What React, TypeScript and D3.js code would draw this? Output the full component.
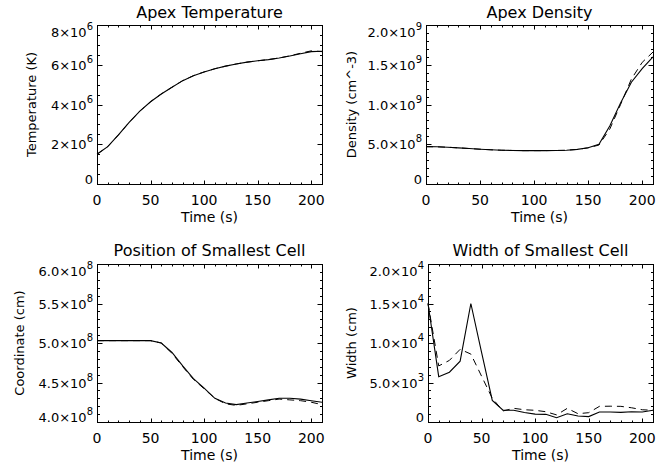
import React from 'react';
import * as d3 from 'd3';

// ---------- data ----------
const time = [0, 10, 20, 30, 40, 50, 60, 70, 80, 90, 100, 110, 120, 130, 140, 150, 160, 170, 180, 190, 200, 210];

const tempSolid = [1.50e6, 1.88e6, 2.47e6, 3.10e6, 3.67e6, 4.14e6, 4.53e6, 4.87e6, 5.20e6, 5.45e6, 5.64e6, 5.80e6, 5.93e6, 6.04e6, 6.13e6, 6.20e6, 6.26e6, 6.34e6, 6.44e6, 6.55e6, 6.66e6, 6.68e6];
const tempDashed = [1.50e6, 1.88e6, 2.47e6, 3.10e6, 3.67e6, 4.14e6, 4.53e6, 4.87e6, 5.20e6, 5.45e6, 5.64e6, 5.80e6, 5.93e6, 6.04e6, 6.13e6, 6.20e6, 6.26e6, 6.34e6, 6.45e6, 6.58e6, 6.70e6, 6.66e6];

const densSolid = [4.70e8, 4.68e8, 4.62e8, 4.55e8, 4.46e8, 4.38e8, 4.30e8, 4.25e8, 4.22e8, 4.20e8, 4.20e8, 4.20e8, 4.22e8, 4.25e8, 4.35e8, 4.55e8, 5.00e8, 7.30e8, 10.2e8, 12.8e8, 14.5e8, 16.0e8];
const densDashed = [4.70e8, 4.68e8, 4.62e8, 4.55e8, 4.46e8, 4.38e8, 4.30e8, 4.25e8, 4.22e8, 4.20e8, 4.20e8, 4.20e8, 4.22e8, 4.25e8, 4.35e8, 4.55e8, 4.90e8, 6.90e8, 10.0e8, 13.2e8, 15.3e8, 16.6e8];

const posSolid = [5.03e8, 5.03e8, 5.03e8, 5.03e8, 5.03e8, 5.03e8, 5.00e8, 4.88e8, 4.71e8, 4.55e8, 4.43e8, 4.30e8, 4.24e8, 4.22e8, 4.24e8, 4.26e8, 4.28e8, 4.30e8, 4.30e8, 4.29e8, 4.27e8, 4.25e8];
const posDashed = [5.03e8, 5.03e8, 5.03e8, 5.03e8, 5.03e8, 5.03e8, 5.00e8, 4.87e8, 4.70e8, 4.54e8, 4.42e8, 4.30e8, 4.23e8, 4.21e8, 4.23e8, 4.25e8, 4.27e8, 4.29e8, 4.28e8, 4.27e8, 4.25e8, 4.22e8];

const widthSolid = [15.0e3, 5.74e3, 6.30e3, 7.70e3, 15.0e3, 8.80e3, 2.74e3, 1.50e3, 1.48e3, 1.20e3, 1.00e3, 0.97e3, 0.55e3, 1.05e3, 0.76e3, 0.68e3, 1.27e3, 1.27e3, 1.22e3, 1.30e3, 1.27e3, 1.48e3];
const widthDashed = [15.0e3, 7.10e3, 7.80e3, 9.20e3, 8.60e3, 5.80e3, 3.00e3, 1.40e3, 1.73e3, 1.55e3, 1.48e3, 1.30e3, 0.90e3, 1.73e3, 1.05e3, 1.18e3, 1.98e3, 2.00e3, 1.98e3, 1.80e3, 1.55e3, 1.48e3];

const xTicks = [0, 50, 100, 150, 200];
const xTickLabels = ['0', '50', '100', '150', '200'];

const tempTicks = [0, 2e6, 4e6, 6e6, 8e6];
const tempTickLabels = ['0', '2×10^6', '4×10^6', '6×10^6', '8×10^6'];
const densTicks = [0, 0.5e9, 1.0e9, 1.5e9, 2.0e9];
const densTickLabels = ['0', '5.0×10^8', '1.0×10^9', '1.5×10^9', '2.0×10^9'];
const posTicks = [4.0e8, 4.5e8, 5.0e8, 5.5e8, 6.0e8];
const posTickLabels = ['4.0×10^8', '4.5×10^8', '5.0×10^8', '5.5×10^8', '6.0×10^8'];
const widthTicks = [0, 5e3, 10e3, 15e3, 20e3];
const widthTickLabels = ['0', '5.0×10^3', '1.0×10^4', '1.5×10^4', '2.0×10^4'];

const titles = ['Apex Temperature', 'Apex Density', 'Position of Smallest Cell', 'Width of Smallest Cell'];
const yTitles = ['Temperature (K)', 'Density (cm^-3)', 'Coordinate (cm)', 'Width (cm)'];
const xTitle = 'Time (s)';

// ---------- layout ----------
type PanelCfg = {
  title: string; yTitle: string;
  left: number; right: number; top: number; bottom: number;
  yTitleX: number; titleY: number;
  yDomain: [number, number]; yTicks: number[]; yLabels: string[]; yMinor: number;
  solid: number[]; dashed: number[];
};

const panels: PanelCfg[] = [
  { title: titles[0], yTitle: yTitles[0], left: 97, right: 322, top: 25, bottom: 184, yTitleX: 36, titleY: 18,
    yDomain: [0, 8e6], yTicks: tempTicks, yLabels: tempTickLabels, yMinor: 0.5e6, solid: tempSolid, dashed: tempDashed },
  { title: titles[1], yTitle: yTitles[1], left: 426, right: 653, top: 25, bottom: 184, yTitleX: 356, titleY: 18,
    yDomain: [0, 2e9], yTicks: densTicks, yLabels: densTickLabels, yMinor: 0.1e9, solid: densSolid, dashed: densDashed },
  { title: titles[2], yTitle: yTitles[2], left: 97, right: 322, top: 264, bottom: 422, yTitleX: 24, titleY: 256,
    yDomain: [4e8, 6e8], yTicks: posTicks, yLabels: posTickLabels, yMinor: 0.1e8, solid: posSolid, dashed: posDashed },
  { title: titles[3], yTitle: yTitles[3], left: 428, right: 653, top: 264, bottom: 422, yTitleX: 356, titleY: 256,
    yDomain: [0, 2e4], yTicks: widthTicks, yLabels: widthTickLabels, yMinor: 1e3, solid: widthSolid, dashed: widthDashed },
];

const FONT = '"DejaVu Sans", sans-serif';

function Label({ text, x, y, anchor, size, supSize }: { text: string; x: number; y: number; anchor: string; size: number; supSize: number }) {
  const parts = text.split('^');
  return (
    <text x={x} y={y} textAnchor={anchor} fontSize={size} fontFamily={FONT} fill="#000">
      {parts[0]}
      {parts.length > 1 && (
        <tspan dy={-7} fontSize={supSize}>{parts[1]}</tspan>
      )}
    </text>
  );
}

function Panel({ cfg }: { cfg: PanelCfg }) {
  const x = d3.scaleLinear().domain([0, 210]).range([cfg.left, cfg.right]);
  const y = d3.scaleLinear().domain(cfg.yDomain).range([cfg.bottom, cfg.top]);
  const line = d3.line<number>().x((_, i) => x(time[i])).y((d) => y(d));

  const L = cfg.left + 0.5, R = cfg.right + 0.5, T = cfg.top + 0.5, B = cfg.bottom + 0.5;
  const px = (v: number) => Math.round(x(v)) + 0.5;
  const py = (v: number) => Math.round(y(v)) + 0.5;

  const xMinor = d3.range(0, 211, 10);
  const nY = Math.round((cfg.yDomain[1] - cfg.yDomain[0]) / cfg.yMinor);
  const yMinorVals = d3.range(0, nY + 1).map((i) => cfg.yDomain[0] + i * cfg.yMinor);
  const isMajorX = (v: number) => v % 50 === 0;
  const isMajorY = (v: number) => cfg.yTicks.some((t) => Math.abs(t - v) < cfg.yMinor * 1e-3);

  const tickPath: string[] = [];
  xMinor.forEach((v) => {
    const len = isMajorX(v) ? 4 : 2;
    const xx = px(v);
    tickPath.push(`M${xx},${B}V${B - len}`);
    tickPath.push(`M${xx},${T}V${T + len}`);
  });
  yMinorVals.forEach((v) => {
    const len = isMajorY(v) ? 5 : 2.5;
    const yy = py(v);
    tickPath.push(`M${L},${yy}H${L + len}`);
    tickPath.push(`M${R},${yy}H${R - len}`);
  });

  const cx = (cfg.left + cfg.right) / 2;
  const cy = (cfg.top + cfg.bottom) / 2;

  return (
    <g>
      <path d={line(cfg.dashed) || ''} fill="none" stroke="#000" strokeWidth={1} strokeDasharray="7,5" />
      <path d={line(cfg.solid) || ''} fill="none" stroke="#000" strokeWidth={1.1} />
      <rect x={L} y={T} width={cfg.right - cfg.left} height={cfg.bottom - cfg.top} fill="none" stroke="#000" strokeWidth={1} />
      <path d={tickPath.join('')} stroke="#000" strokeWidth={1} fill="none" />
      {xTicks.map((v, i) => (
        <Label key={'x' + i} text={xTickLabels[i]} x={x(v)} y={cfg.bottom + 21} anchor="middle" size={14} supSize={10} />
      ))}
      {cfg.yTicks.map((v, i) => {
        let by = y(v) + 5;
        if (i === cfg.yTicks.length - 1) by = y(v) + 12;
        if (i === 0) by = y(v) - 0.5;
        return <Label key={'y' + i} text={cfg.yLabels[i]} x={cfg.left - 4} y={by} anchor="end" size={13} supSize={10} />;
      })}
      <text x={cx} y={cfg.titleY} textAnchor="middle" fontSize={16} fontFamily={FONT} fill="#000">{cfg.title}</text>
      <text x={cx} y={cfg.bottom + 38} textAnchor="middle" fontSize={14} fontFamily={FONT} fill="#000">{xTitle}</text>
      <text transform={`translate(${cfg.yTitleX},${cy}) rotate(-90)`} textAnchor="middle" fontSize={13} fontFamily={FONT} fill="#000">{cfg.yTitle}</text>
    </g>
  );
}

export default function App() {
  return (
    <svg width={670} height={465} style={{ position: 'absolute', left: 0, top: 0, background: '#fff' }}>
      <rect x={0} y={0} width={670} height={465} fill="#fff" />
      {panels.map((p, i) => <Panel key={i} cfg={p} />)}
    </svg>
  );
}
